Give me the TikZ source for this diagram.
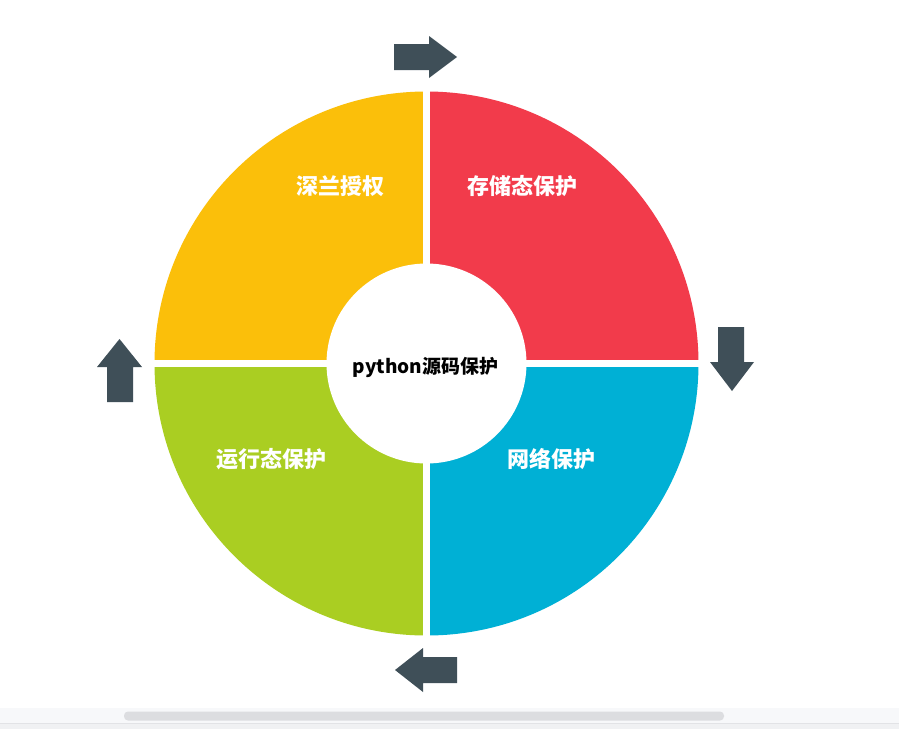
\documentclass[tikz,border=0pt]{standalone}
\usepackage{fontspec}
\newfontfamily\cjk{Noto Sans CJK SC}
\definecolor{cyellow}{HTML}{FBBF0A}
\definecolor{cred}{HTML}{F23B4B}
\definecolor{cgreen}{HTML}{AACE22}
\definecolor{cblue}{HTML}{00B0D5}
\definecolor{arrowc}{HTML}{3F4F58}
\definecolor{sbbg}{HTML}{F7F8FA}
\definecolor{sbthumb}{HTML}{DCDDE0}
\definecolor{sbline}{HTML}{E2E3E6}
\definecolor{sbbot}{HTML}{F0F1F3}
\begin{document}
\begin{tikzpicture}[x=1pt,y=-1pt,
  seglabel/.style={text=white,font=\cjk\bfseries\fontsize{22}{26}\selectfont},
  centerlabel/.style={text=black,font=\cjk\bfseries\fontsize{19}{22}\selectfont},
  arr/.style={fill=arrowc,draw=none}]
\useasboundingbox (0,0) rectangle (899,729);
\fill[white] (0,0) rectangle (899,729);
\coordinate (c) at (426.5,363.5);
% sectors
\fill[cred] (c) -- ++(0,-272) arc[start angle=90,end angle=0,x radius=272,y radius=-272] -- cycle;
\fill[cyellow] (c) -- ++(-272,0) arc[start angle=180,end angle=90,x radius=272,y radius=-272] -- cycle;
\fill[cgreen] (c) -- ++(-272,0) arc[start angle=180,end angle=270,x radius=272,y radius=-272] -- cycle;
\fill[cblue] (c) -- ++(272,0) arc[start angle=0,end angle=-90,x radius=272,y radius=-272] -- cycle;
\draw[white,line width=7pt] ([yshift=-280]c) -- ([yshift=280]c);
\draw[white,line width=7pt] ([xshift=-280]c) -- ([xshift=280]c);
\fill[white] (c) circle[radius=100];
% labels
\node[seglabel] (sq) at (340,186) {深兰授权};
\node[seglabel] (cc) at (522,186) {存储态保护};
\node[seglabel] (yx) at (271,459) {运行态保护};
\node[seglabel] (wl) at (551,459) {网络保护};
\node[centerlabel] (py) at (425.5,367) {python源码保护};
% arrows
\fill[arr] (394,44) -- (429,44) -- (429,36) -- (457,57) -- (429,78) -- (429,70) -- (394,70) -- cycle;
\fill[arr] (718,327) -- (744,327) -- (744,362) -- (754,362) -- (732,391) -- (710,362) -- (718,362) -- cycle;
\fill[arr] (457,657) -- (423,657) -- (423,648) -- (395,670) -- (423,692) -- (423,683) -- (457,683) -- cycle;
\fill[arr] (107,402) -- (107,367) -- (97,367) -- (119.5,339) -- (142,367) -- (133,367) -- (133,402) -- cycle;
% scrollbar
\fill[sbbg] (0,708) rectangle (899,723);
\fill[sbthumb, rounded corners=4pt] (124,711.5) rectangle (724,720.5);
\fill[sbline] (0,723) rectangle (899,724);
\fill[sbbot] (0,724) rectangle (899,729);
\end{tikzpicture}
\end{document}
